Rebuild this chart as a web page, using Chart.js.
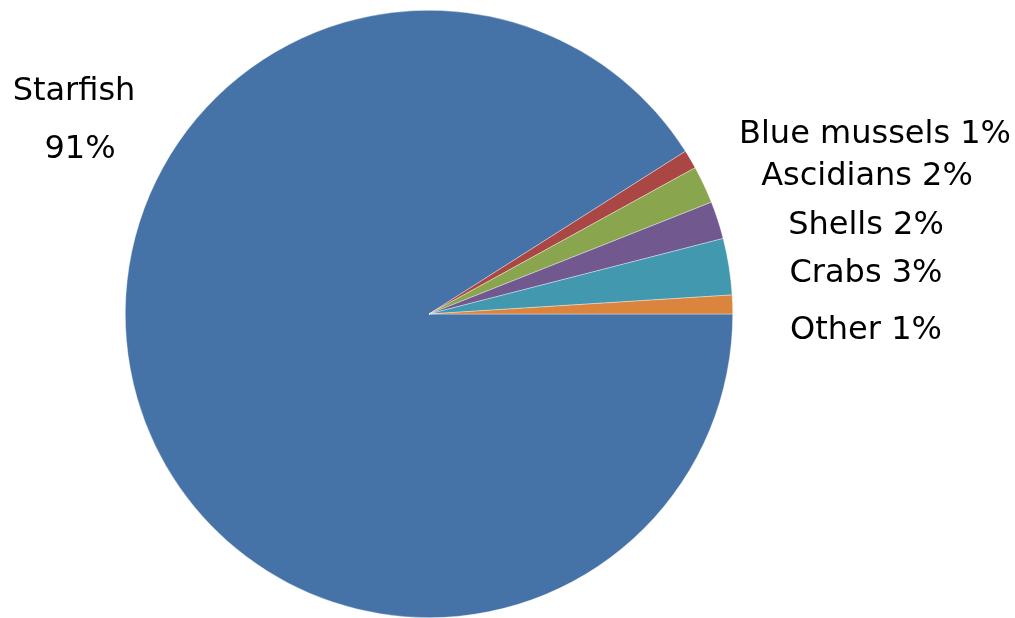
<!DOCTYPE html>
<html>
<head>
<meta charset="utf-8">
<script src="https://cdn.jsdelivr.net/npm/chart.js@4/dist/chart.umd.min.js"></script>
<style>
  html, body { margin: 0; padding: 0; background: #ffffff; }
  #wrap { width: 1015px; height: 618px; position: relative; }
</style>
</head>
<body>
<div id="wrap"><canvas id="c" width="1015" height="618"></canvas></div>
<script>
const categories = ["Starfish", "Blue mussels", "Ascidians", "Shells", "Crabs", "Other"];
const values = [91, 1, 2, 2, 3, 1];
const colors = ["#4572A7", "#AA4643", "#89A54E", "#71588F", "#4198AF", "#DB843D"];

// label anchor positions (center x, baseline y) per slice; Starfish uses two lines
const labelAnchors = [
  { x: 74, y: 100, x2: 80, y2: 158 },
  { x: 875, y: 143 },
  { x: 867, y: 185 },
  { x: 866, y: 234 },
  { x: 866, y: 282 },
  { x: 866, y: 339 }
];

const labelPlugin = {
  id: 'sliceLabels',
  afterDatasetsDraw(chart) {
    const ctx = chart.ctx;
    const ds = chart.data.datasets[0];
    ctx.save();
    ctx.fillStyle = '#000000';
    ctx.font = '32px "DejaVu Sans", Verdana, sans-serif';
    ctx.textAlign = 'center';
    ctx.textBaseline = 'alphabetic';
    chart.data.labels.forEach((lab, i) => {
      const a = labelAnchors[i];
      const pct = ds.data[i] + '%';
      if (a.x2 !== undefined) {
        ctx.fillText(lab, a.x, a.y);
        ctx.fillText(pct, a.x2, a.y2);
      } else {
        ctx.fillText(lab + ' ' + pct, a.x, a.y);
      }
    });
    ctx.restore();
  }
};

new Chart(document.getElementById('c'), {
  type: 'pie',
  data: {
    labels: categories,
    datasets: [{
      data: values,
      backgroundColor: colors,
      borderColor: 'rgba(255,255,255,0.6)',
      borderWidth: 0.6,
      hoverOffset: 0
    }]
  },
  options: {
    responsive: false,
    animation: false,
    rotation: 90,
    layout: { padding: { top: 10, left: 0, right: 157, bottom: 0 } },
    plugins: {
      legend: { display: false },
      tooltip: { enabled: false }
    }
  },
  plugins: [labelPlugin]
});
</script>
</body>
</html>
